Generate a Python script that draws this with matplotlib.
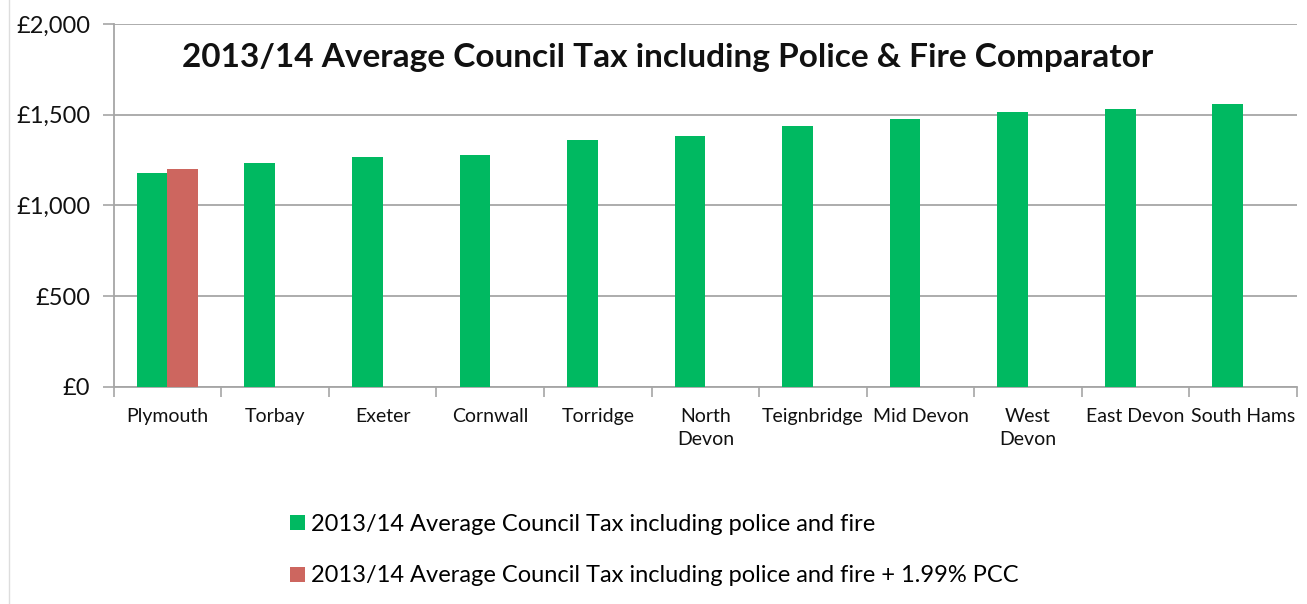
import matplotlib
matplotlib.use("Agg")
import matplotlib.pyplot as plt
import numpy as np
from matplotlib.patches import Patch
from matplotlib.lines import Line2D

categories = ["Plymouth", "Torbay", "Exeter", "Cornwall", "Torridge", "North\nDevon",
              "Teignbridge", "Mid Devon", "West\nDevon", "East Devon", "South Hams"]
base_values = [1178, 1232, 1268, 1277, 1358, 1384, 1439, 1476, 1513, 1530, 1557]
pcc_values = [1202, np.nan, np.nan, np.nan, np.nan, np.nan, np.nan, np.nan, np.nan, np.nan, np.nan]
series_labels = ["2013/14 Average Council Tax including police and fire",
                 "2013/14 Average Council Tax including police and fire + 1.99% PCC"]
yticks = [0, 500, 1000, 1500, 2000]
ytick_labels = ["£0", "£500", "£1,000", "£1,500", "£2,000"]
title = "2013/14 Average Council Tax including Police & Fire Comparator"

GREEN = "#00B961"
RED = "#CD665F"
GRID = "#a6a6a6"
FONT = "Lato"

fig = plt.figure(figsize=(13.07, 6.04), dpi=100)
ax = fig.add_axes([0.087, 0.3598, 0.9923 - 0.087, 0.9603 - 0.3598])

x = np.arange(len(categories))
w = 0.285
ax.bar(x - w / 2, base_values, width=w, color=GREEN, zorder=3)
ax.bar(x + w / 2, pcc_values, width=w, color=RED, zorder=3)

ax.set_xlim(-0.5, len(categories) - 0.5)
ax.set_ylim(0, 2000)
ax.set_yticks(yticks)
ax.set_yticklabels(ytick_labels, fontsize=17, family=FONT, color="#111111")
ax.yaxis.grid(True, color=GRID, linewidth=1.3, zorder=0)
ax.tick_params(axis="y", length=8, width=1.2, color=GRID, pad=9)

ax.set_xticks(x)
ax.set_xticklabels(categories, fontsize=14, family=FONT, color="#111111", linespacing=1.45)
ax.tick_params(axis="x", length=0, pad=15)
ax.set_xticks(np.arange(len(categories) + 1) - 0.5, minor=True)
ax.tick_params(axis="x", which="minor", length=7, width=1.2, color=GRID)

for s in ["top", "right"]:
    ax.spines[s].set_visible(False)
for s in ["left", "bottom"]:
    ax.spines[s].set_color(GRID)
    ax.spines[s].set_linewidth(1.3)

fig.text(667.5 / 1307, 1 - 58 / 604, title, ha="center", va="center",
         fontsize=24, fontweight="bold", family=FONT, color="#111111")

handles = [Patch(facecolor=GREEN), Patch(facecolor=RED)]
fig.legend(handles, series_labels, loc="upper left", bbox_to_anchor=(0.215, 0.165),
           frameon=False, prop={"family": FONT, "size": 17},
           handlelength=0.6, handleheight=0.6, handletextpad=0.25, labelspacing=1.3,
           borderaxespad=0)

fig.add_artist(Line2D([9 / 1307, 9 / 1307], [0, 1], color="#dddddd", linewidth=1))

fig.savefig("out.png", dpi=100, facecolor="white")
